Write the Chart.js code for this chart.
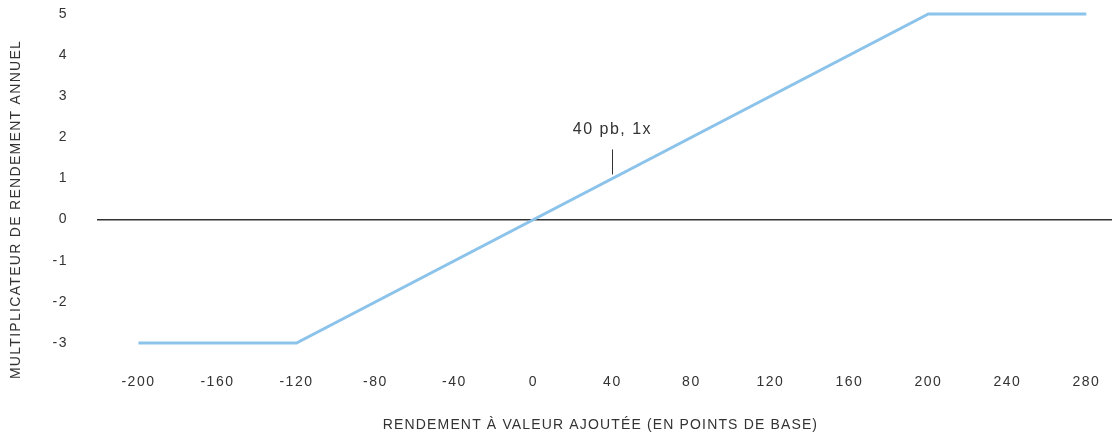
<!DOCTYPE html>
<html>
<head>
<meta charset="utf-8">
<script src="https://cdn.jsdelivr.net/npm/chart.js@4.4.1/dist/chart.umd.min.js"></script>
<style>
    html, body { margin: 0; padding: 0; background: #fff; }
    #wrap { width: 1112px; height: 433px; position: relative; }
</style>
</head>
<body>
<div id="wrap"><canvas id="chart"></canvas></div>
<script>
// Données du graphique
const basisPoints = [-200, -120, 200, 280];
const multipliers = [-3, -3, 5, 5];
const xTickValues = [-200, -160, -120, -80, -40, 0, 40, 80, 120, 160, 200, 240, 280];
const yTickValues = [-3, -2, -1, 0, 1, 2, 3, 4, 5];
const noteBp = 40;
const noteMult = 1;
const noteLabel = '40 pb, 1x';
const xTitle = 'RENDEMENT À VALEUR AJOUTÉE (EN POINTS DE BASE)';
const yTitle = 'MULTIPLICATEUR DE RENDEMENT ANNUEL';

const textColor = '#333333';
const fontFamily = '"Liberation Sans", Arial, Helvetica, sans-serif';

// Espacement des lettres + titres d'axes + annotation
const textPlugin = {
    id: 'textPlugin',
    beforeDraw(chart) {
        chart.ctx.letterSpacing = '1.5px';
    },
    afterDraw(chart) {
        const ctx = chart.ctx;
        const xs = chart.scales.x;
        const ys = chart.scales.y;
        const area = chart.chartArea;
        ctx.save();
        ctx.fillStyle = textColor;
        ctx.strokeStyle = textColor;
        ctx.letterSpacing = '1.15px';
        ctx.font = '14px ' + fontFamily;
        ctx.textAlign = 'center';
        ctx.textBaseline = 'middle';

        // titre axe x
        ctx.fillText(xTitle, (area.left + area.right) / 2 - 4, chart.height - 8);

        // titre axe y
        ctx.save();
        ctx.letterSpacing = '1.3px';
        ctx.translate(16, (ys.getPixelForValue(-3) + ys.getPixelForValue(5)) / 2 + 31);
        ctx.rotate(-Math.PI / 2);
        ctx.fillText(yTitle, 0, 0);
        ctx.restore();

        // annotation 40 pb, 1x
        const px = xs.getPixelForValue(noteBp);
        const py = ys.getPixelForValue(noteMult);
        ctx.lineWidth = 1;
        ctx.beginPath();
        ctx.moveTo(Math.round(px) + 0.5, py - 4);
        ctx.lineTo(Math.round(px) + 0.5, py - 29);
        ctx.stroke();
        ctx.letterSpacing = '1.5px';
        ctx.font = '16px ' + fontFamily;
        ctx.fillText(noteLabel, px, py - 49);
        ctx.restore();
    }
};

const ctx = document.getElementById('chart').getContext('2d');

new Chart(ctx, {
    type: 'line',
    data: {
        datasets: [{
            data: basisPoints.map((bp, i) => ({ x: bp, y: multipliers[i] })),
            borderColor: '#8cc3ea',
            borderWidth: 3,
            pointRadius: 0,
            fill: false,
            tension: 0
        }]
    },
    options: {
        responsive: true,
        maintainAspectRatio: false,
        animation: false,
        layout: { padding: { top: 2, right: 0, left: 0, bottom: 0 } },
        plugins: {
            legend: { display: false },
            tooltip: { enabled: false }
        },
        scales: {
            x: {
                type: 'linear',
                min: -221,
                max: 293,
                afterFit(scale) { scale.height = 68; },
                afterBuildTicks(scale) {
                    scale.ticks = xTickValues.map(v => ({ value: v }));
                },
                grid: { display: false, drawTicks: false },
                border: { display: false },
                ticks: {
                    autoSkip: false,
                    maxRotation: 0,
                    padding: 9,
                    color: textColor,
                    font: { family: fontFamily, size: 14 }
                }
            },
            y: {
                min: -3.535,
                max: 5.29,
                afterFit(scale) {
                    scale.width = 97;
                    scale.paddingTop = 0;
                    scale.paddingBottom = 0;
                },
                afterBuildTicks(scale) {
                    scale.ticks = yTickValues.map(v => ({ value: v }));
                },
                grid: {
                    drawTicks: false,
                    lineWidth: 1.5,
                    color: c => (c.tick && c.tick.value === 0) ? '#333333' : 'rgba(0,0,0,0)'
                },
                border: { display: false },
                ticks: {
                    padding: 29,
                    color: textColor,
                    font: { family: fontFamily, size: 14 }
                }
            }
        }
    },
    plugins: [textPlugin]
});
</script>
</body>
</html>
